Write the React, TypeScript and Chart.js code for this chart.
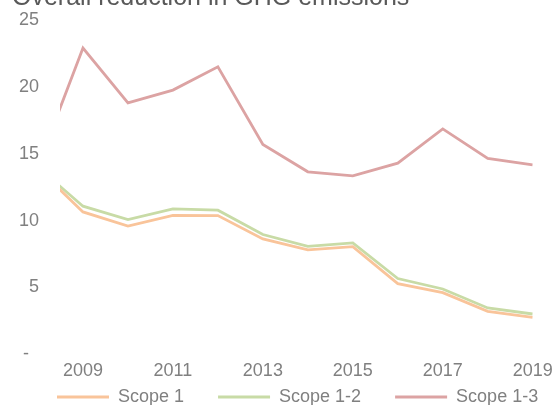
import React, { useEffect, useRef } from "react";
import { Chart, registerables } from "chart.js";

Chart.register(...registerables);

const years = [2008, 2009, 2010, 2011, 2012, 2013, 2014, 2015, 2016, 2017, 2018, 2019];
const scope1 = [13.9, 10.65, 9.6, 10.4, 10.38, 8.63, 7.81, 8.06, 5.29, 4.62, 3.22, 2.77];
const scope12 = [14.0, 11.08, 10.08, 10.88, 10.78, 8.96, 8.08, 8.33, 5.67, 4.89, 3.47, 3.02];
const scope13 = [14.1, 22.9, 18.8, 19.76, 21.5, 15.7, 13.65, 13.35, 14.3, 16.86, 14.65, 14.17];
const xTickYears = [2009, 2011, 2013, 2015, 2017, 2019];
const yTicks = [0, 5, 10, 15, 20, 25];
const seriesNames = ["Scope 1", "Scope 1-2", "Scope 1-3"];
const titleText = "Overall reduction in GHG emissions";

const FONT = "'Liberation Sans', Arial, sans-serif";
const GREY = "#808080";
const colors = ["#F9C49A", "#C8DBA6", "#DCA3A3"];

export default function App() {
  const ref = useRef<HTMLCanvasElement | null>(null);

  useEffect(() => {
    if (!ref.current) return;
    const titlePlugin = {
      id: "customTitle",
      afterDraw(chart: any) {
        const ctx = chart.ctx;
        ctx.save();
        ctx.font = `25px ${FONT}`;
        ctx.fillStyle = "#595959";
        ctx.textAlign = "left";
        ctx.textBaseline = "alphabetic";
        ctx.fillText(titleText, 12, 5);
        ctx.restore();
      },
    };
    const legendShift = {
      id: "legendShift",
      afterLayout(chart: any) {
        const lg = chart.legend;
        if (!lg) return;
        const P = lg.options.labels.padding;
        const lw = lg.lineWidths ? lg.lineWidths[0] : 0;
        const x0 = (lg.left + P + lg.right - lw) / 2;
        const dx = 57 - x0;
        lg.left += dx;
        lg.right += dx;
        const dy = 388 - (lg.top + P);
        lg.top += dy;
        lg.bottom += dy;
      },
    };
    const series = [scope1, scope12, scope13];
    const chart = new Chart(ref.current, {
      type: "line",
      data: {
        datasets: series.map((s, i) => ({
          label: seriesNames[i],
          data: years.map((y, j) => ({ x: y, y: s[j] })),
          borderColor: colors[i],
          backgroundColor: colors[i],
          borderWidth: 2.8,
          pointRadius: 0,
          tension: 0,
          fill: false,
        })),
      },
      options: {
        animation: false,
        responsive: false,
        maintainAspectRatio: false,
        layout: { padding: { top: 20, left: 0, right: 0, bottom: 0 } },
        scales: {
          x: {
            type: "linear",
            min: 2008.489,
            max: 2019,
            grid: { display: false, drawTicks: false },
            border: { display: false },
            afterBuildTicks: (scale: any) => {
              scale.ticks = xTickYears.map((v) => ({ value: v }));
            },
            afterFit: (scale: any) => {
              scale.paddingLeft = 0;
              scale.paddingRight = 22.3;
            },
            ticks: {
              padding: 6,
              maxRotation: 0,
              autoSkip: false,
              color: GREY,
              font: { family: FONT, size: 18 },
              callback: (v: any) => String(v),
            },
          },
          y: {
            min: 0,
            max: 25,
            grid: { display: false, drawTicks: false },
            border: { display: false },
            afterBuildTicks: (scale: any) => {
              scale.ticks = yTicks.map((v) => ({ value: v }));
            },
            afterFit: (scale: any) => {
              scale.width = 60;
              scale.paddingTop = 0;
              scale.paddingBottom = 0;
            },
            ticks: {
              padding: 21,
              color: GREY,
              font: { family: FONT, size: 18 },
              callback: (v: any) => (v === 0 ? "-  " : String(v)),
            },
          },
        },
        plugins: {
          title: { display: false },
          tooltip: { enabled: false },
          legend: {
            display: true,
            position: "bottom",
            labels: {
              boxWidth: 52,
              boxHeight: 3,
              padding: 34,
              color: GREY,
              font: { family: FONT, size: 18 },
              generateLabels: (chart: any) =>
                chart.data.datasets.map((d: any, i: number) => ({
                  text: d.label,
                  fillStyle: d.borderColor,
                  strokeStyle: d.borderColor,
                  lineWidth: 0,
                  hidden: false,
                  datasetIndex: i,
                  fontColor: GREY,
                })),
            },
          },
        },
      },
      plugins: [titlePlugin, legendShift],
    } as any);
    return () => chart.destroy();
  }, []);

  return (
    <div style={{ position: "absolute", left: 0, top: 0, width: 555, height: 450, background: "#fff" }}>
      <canvas ref={ref} width={555} height={450} style={{ display: "block" }} />
    </div>
  );
}
